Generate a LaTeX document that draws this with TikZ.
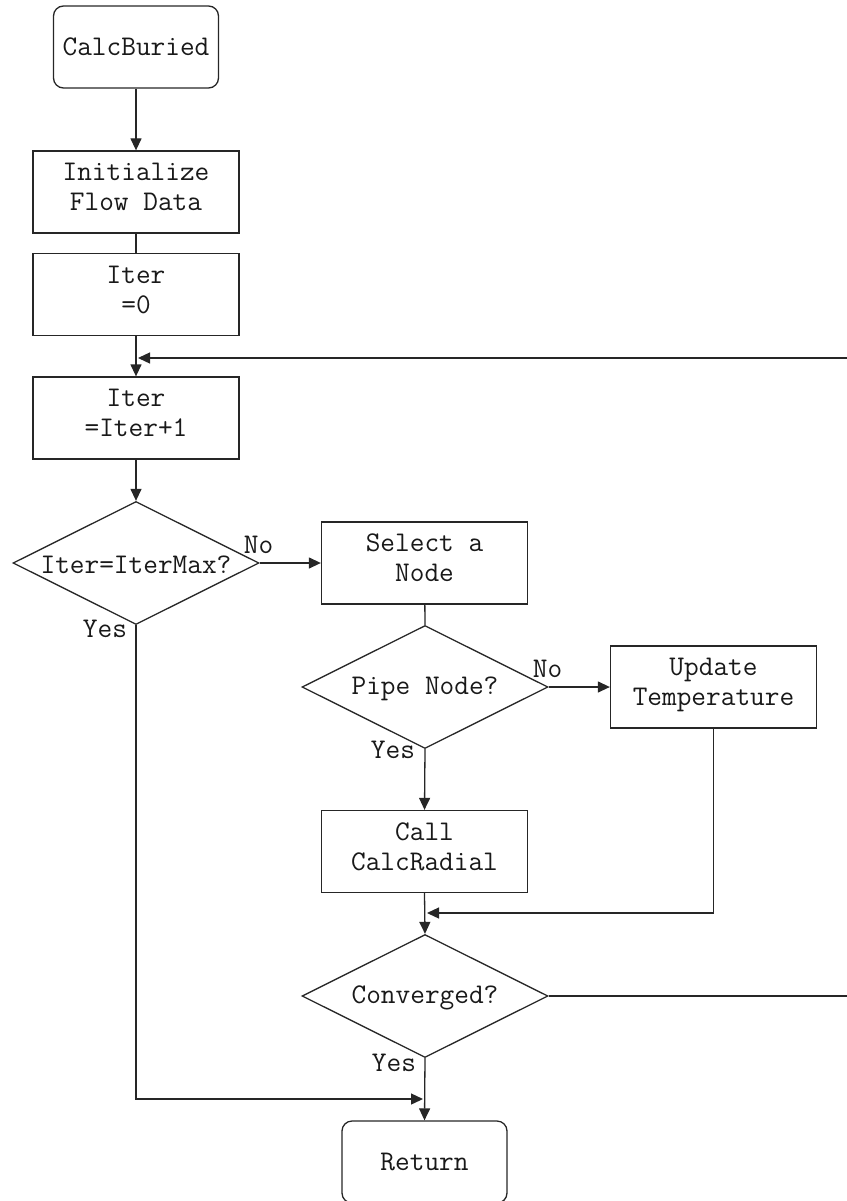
\documentclass[tikz,border=0pt]{standalone}
\usepackage{fontspec}
\usetikzlibrary{shapes.geometric,arrows.meta}
\begin{document}
\begin{tikzpicture}[x=1pt,y=-1pt,
  every node/.style={font=\ttfamily\fontsize{28.5}{30}\selectfont, text=black!90},
  proc/.style={draw=black!85, line width=1.3pt, rectangle, minimum width=206pt, minimum height=82pt, inner sep=0pt, align=center, text depth=10pt},
  term/.style={draw=black!85, line width=1.3pt, rectangle, rounded corners=10pt, minimum width=165pt, minimum height=82pt, inner sep=0pt, align=center},
  dec/.style={draw=black!85, line width=1.3pt, diamond, minimum width=246pt, minimum height=123pt, inner sep=0pt},
  lbl/.style={inner sep=0pt},
  conn/.style={draw=black!85, line width=1.3pt},
  arr/.style={conn, -{Triangle[length=12pt,width=11pt]}}
]
\useasboundingbox (0,0) rectangle (846,1201);
% nodes
\node[term] (cb) at (136,47) {CalcBuried};
\node[proc] (init) at (136,192) {Initialize\\Flow Data};
\node[proc] (it0) at (136,294.5) {Iter\\=0};
\node[proc] (it1) at (136,418) {Iter\\=Iter+1};
\node[dec] (d1) at (136,563) {};
\node[lbl] at ([shift={(0,2)}]d1.center) {Iter=IterMax?};
\node[proc] (sel) at (424.5,563) {Select a\\Node};
\node[dec] (d2) at (425,687) {};
\node[lbl] at ([shift={(0,2)}]d2.center) {Pipe Node?};
\node[proc] (upd) at (713.5,687) {Update\\Temperature};
\node[proc] (call) at (424.5,851.5) {Call\\CalcRadial};
\node[dec] (conv) at (425,996) {};
\node[lbl] at ([shift={(0,2)}]conv.center) {Converged?};
\node[term] (ret) at (424.5,1162) {Return};
% coordinates
\coordinate (loopin) at (138,358);
\coordinate (loopout) at (900,996);
\coordinate (mergeA) at (427,913);
\coordinate (mergeB) at (423,1099);
% connectors
\draw[arr] (cb) -- (init);
\draw[conn] (init) -- (it0);
\draw[arr] (it0) -- (it1);
\draw[arr] (conv.east) -- (loopout) |- (loopin);
\draw[arr] (it1) -- (d1.north);
\draw[arr] (d1.east) -- (sel.west);
\draw[conn] (sel) -- (d2.north);
\draw[arr] (d2.east) -- (upd.west);
\draw[arr] (d2.south) -- (call.north);
\draw[arr] (call.south) -- (conv.north);
\draw[arr] (upd.south) |- (mergeA);
\draw[arr] (conv.south) -- (ret.north);
\draw[arr] (d1.south) |- (mergeB);
% labels
\node[lbl] at ([shift={(-1,-18)}]d1.east) {No};
\node[lbl] at ([shift={(-31,4)}]d1.south) {Yes};
\node[lbl] at ([shift={(-1,-18)}]d2.east) {No};
\node[lbl] at ([shift={(-32,1)}]d2.south) {Yes};
\node[lbl] at ([shift={(-31,5)}]conv.south) {Yes};
\end{tikzpicture}
\end{document}
